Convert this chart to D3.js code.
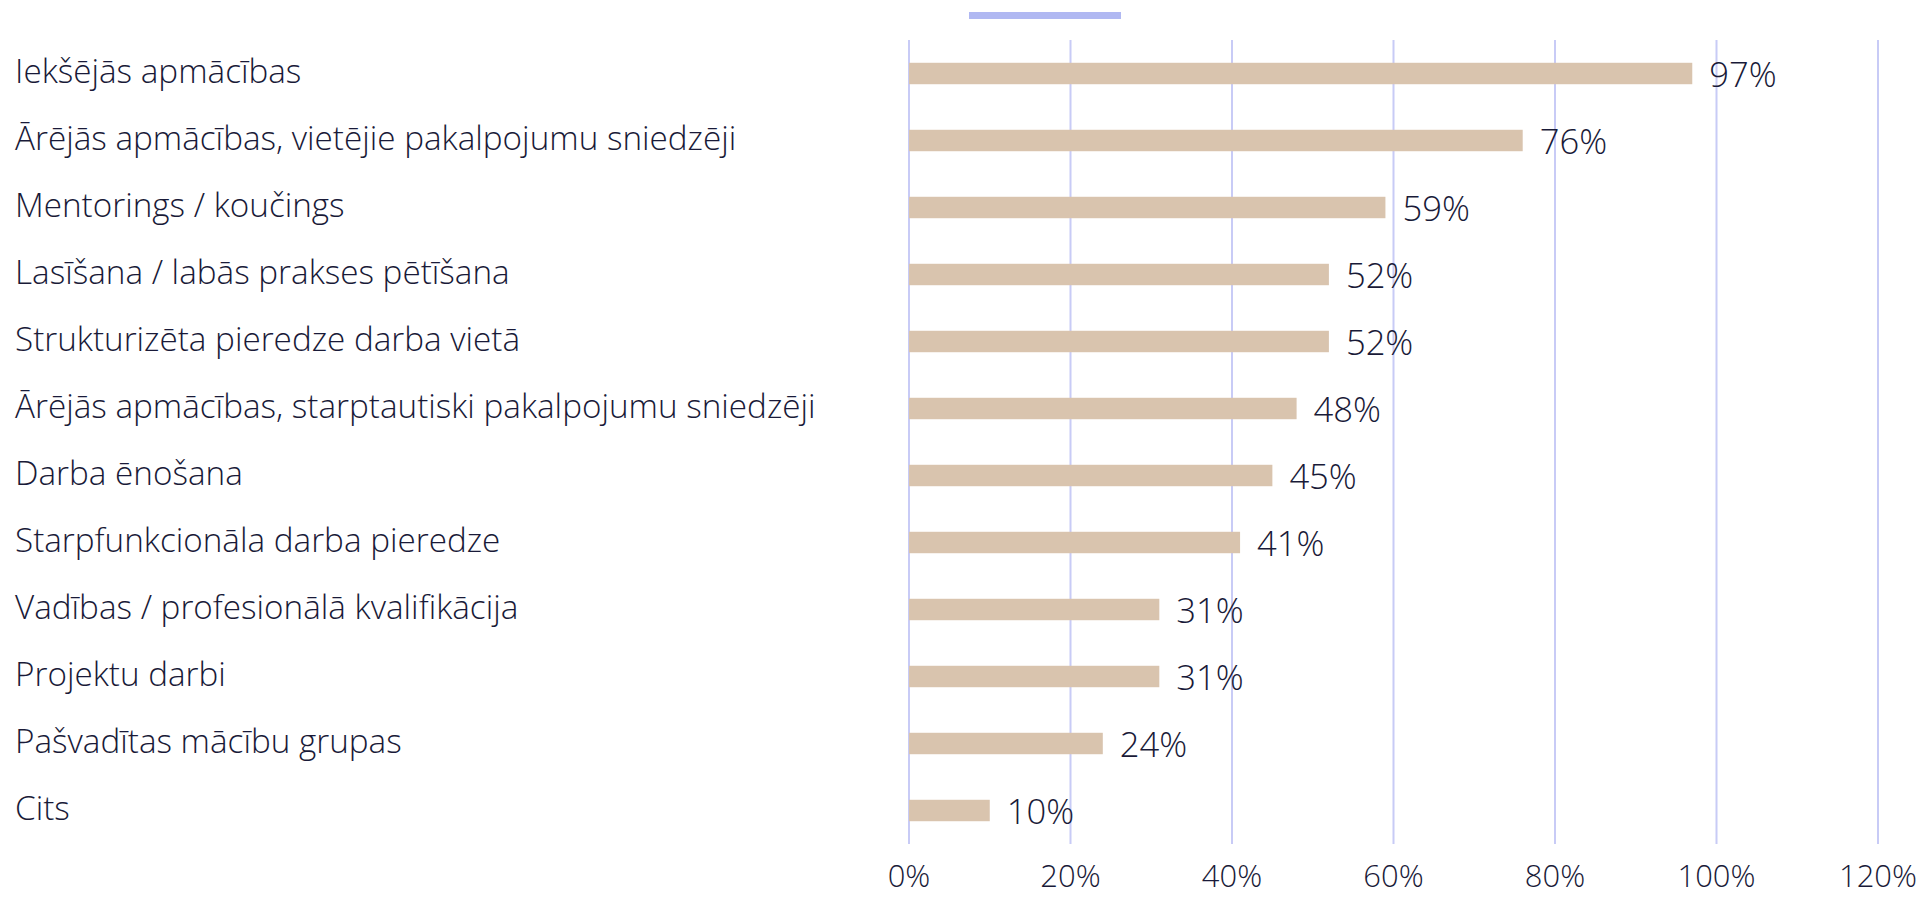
<!DOCTYPE html>
<html>
<head>
<meta charset="utf-8">
<script src="https://cdn.jsdelivr.net/npm/d3@7"></script>
<style>
  body { margin: 0; background: #fff; }
  svg text { font-family: "Open Sans", "Lato", sans-serif; font-weight: 300; fill: #191a38; }
</style>
</head>
<body>
<div id="chartContainer"></div>
<script>
const categories = [
    "Iekšējās apmācības",
    "Ārējās apmācības, vietējie pakalpojumu sniedzēji",
    "Mentorings / koučings",
    "Lasīšana / labās prakses pētīšana",
    "Strukturizēta pieredze darba vietā",
    "Ārējās apmācības, starptautiski pakalpojumu sniedzēji",
    "Darba ēnošana",
    "Starpfunkcionāla darba pieredze",
    "Vadības / profesionālā kvalifikācija",
    "Projektu darbi",
    "Pašvadītas mācību grupas",
    "Cits"
];
const values = [0.97, 0.76, 0.59, 0.52, 0.52, 0.48, 0.45, 0.41, 0.31, 0.31, 0.24, 0.10];
const tickValues = [0, 0.2, 0.4, 0.6, 0.8, 1.0, 1.2];

const width = 1918, height = 899;
const plot = { left: 909, right: 1878, top: 40, bottom: 844 };

const svg = d3.select("#chartContainer")
    .append("svg")
    .attr("width", width)
    .attr("height", height);

const x = d3.scaleLinear()
    .domain([0, 1.2])
    .range([plot.left, plot.right]);

const y = d3.scaleBand()
    .domain(categories)
    .range([plot.top, plot.bottom])
    .paddingInner(0.68)
    .paddingOuter(0.34);

const fmt = d3.format(".0%");

// legend swatch (single series, no text)
svg.append("rect")
    .attr("x", 969).attr("y", 12)
    .attr("width", 152).attr("height", 7)
    .attr("fill", "#b0b8f2");

// vertical gridlines
svg.append("g")
    .selectAll("line")
    .data(tickValues)
    .enter().append("line")
    .attr("x1", d => x(d)).attr("x2", d => x(d))
    .attr("y1", plot.top).attr("y2", plot.bottom)
    .attr("stroke", "#c8cbf6")
    .attr("stroke-width", 2);

// tick labels
const tickLabels = svg.append("g")
    .selectAll("text")
    .data(tickValues)
    .enter().append("text")
    .attr("x", d => x(d))
    .attr("y", 887)
    .attr("text-anchor", "middle")
    .text(d => fmt(d));

// bars
svg.selectAll(".bar")
    .data(values)
    .enter().append("rect")
    .attr("class", "bar")
    .attr("x", x(0))
    .attr("y", (d, i) => y(categories[i]))
    .attr("width", d => x(d) - x(0))
    .attr("height", y.bandwidth())
    .attr("fill", "#d9c4ae");

// category labels
const catLabels = svg.append("g")
    .selectAll("text")
    .data(categories)
    .enter().append("text")
    .attr("x", 15)
    .attr("y", d => y(d) + y.bandwidth() / 2)
    .attr("dy", "0.3em")
    .text(d => d);

// value labels
const valLabels = svg.append("g")
    .selectAll("text")
    .data(values)
    .enter().append("text")
    .attr("x", d => x(d) + 17)
    .attr("y", (d, i) => y(categories[i]) + y.bandwidth() / 2)
    .attr("dy", "0.38em")
    .text(d => fmt(d));

// fit font size so the longest label matches the original width
let fontSize = 30;
svg.selectAll("text").style("font-size", fontSize + "px");
const longest = catLabels.filter((d, i) => i === 5).node().getComputedTextLength();
fontSize = fontSize * 801 / longest;
catLabels.style("font-size", fontSize + "px");
valLabels.style("font-size", (fontSize * 1.04) + "px");
tickLabels.style("font-size", (fontSize * 0.93) + "px");
</script>
</body>
</html>
